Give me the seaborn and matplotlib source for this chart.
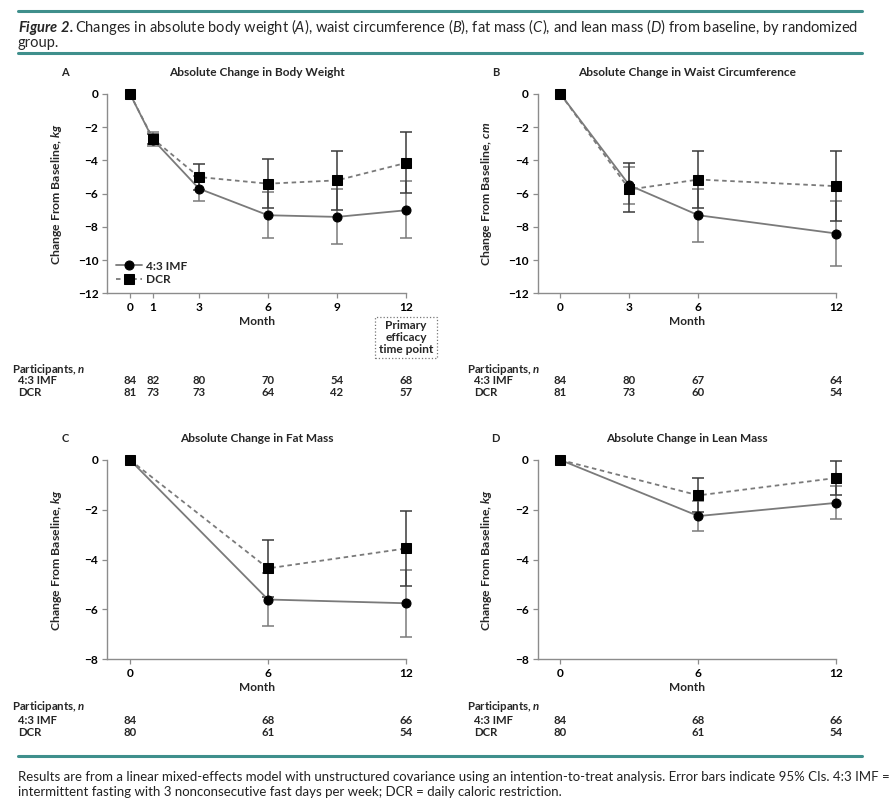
import matplotlib
matplotlib.use("Agg")
import numpy as np
import pandas as pd
import matplotlib.pyplot as plt
import matplotlib.transforms as mtransforms
from matplotlib.lines import Line2D
import seaborn as sns

# Panel A - body weight (kg)
months_a = [0, 1, 3, 6, 9, 12]
imf_a = [0, -2.75, -5.7, -7.3, -7.4, -7.0]
imf_a_lo = [0, -3.15, -6.45, -8.7, -9.05, -8.7]
imf_a_hi = [0, -2.3, -4.95, -5.9, -5.75, -5.25]
dcr_a = [0, -2.7, -5.0, -5.4, -5.2, -4.15]
dcr_a_lo = [0, -3.0, -5.8, -6.85, -7.0, -5.95]
dcr_a_hi = [0, -2.4, -4.2, -3.9, -3.45, -2.3]
n_imf_a = [84, 82, 80, 70, 54, 68]
n_dcr_a = [81, 73, 73, 64, 42, 57]

# Panel B - waist circumference (cm)
months_b = [0, 3, 6, 12]
imf_b = [0, -5.5, -7.3, -8.4]
imf_b_lo = [0, -6.6, -8.9, -10.35]
imf_b_hi = [0, -4.4, -5.7, -6.45]
dcr_b = [0, -5.75, -5.15, -5.55]
dcr_b_lo = [0, -7.1, -6.85, -7.65]
dcr_b_hi = [0, -4.15, -3.45, -3.45]
n_imf_b = [84, 80, 67, 64]
n_dcr_b = [81, 73, 60, 54]

# Panel C - fat mass (kg)
months_c = [0, 6, 12]
imf_c = [0, -5.6, -5.75]
imf_c_lo = [0, -6.65, -7.1]
imf_c_hi = [0, -4.55, -4.4]
dcr_c = [0, -4.35, -3.55]
dcr_c_lo = [0, -5.5, -5.05]
dcr_c_hi = [0, -3.2, -2.05]
n_imf_c = [84, 68, 66]
n_dcr_c = [80, 61, 54]

# Panel D - lean mass (kg)
months_d = [0, 6, 12]
imf_d = [0, -2.25, -1.72]
imf_d_lo = [0, -2.85, -2.35]
imf_d_hi = [0, -1.65, -1.05]
dcr_d = [0, -1.42, -0.72]
dcr_d_lo = [0, -2.08, -1.4]
dcr_d_hi = [0, -0.72, -0.03]
n_imf_d = [84, 68, 66]
n_dcr_d = [80, 61, 54]

groups = ["4:3 IMF", "DCR"]

sns.set_style("ticks")
plt.rcParams["font.family"] = ["Lato", "DejaVu Sans"]
plt.rcParams["mathtext.fontset"] = "custom"
plt.rcParams["mathtext.rm"] = "Lato"
plt.rcParams["mathtext.it"] = "Lato:italic:bold"
plt.rcParams["mathtext.sf"] = "Lato:italic"
plt.rcParams["mathtext.bf"] = "Lato:bold"
plt.rcParams["mathtext.bfit"] = "Lato:bold:italic"

W, H = 890, 802
fig = plt.figure(figsize=(W / 100, H / 100), dpi=100)
teal = "#3f8f8c"
spine_col = "#8c8c8c"
fs = 8.6
fs_tab = 8.2


def fy(py):
    return 1 - py / H


def fx(px):
    return px / W


def panel(rect, months, imf, imf_lo, imf_hi, dcr, dcr_lo, dcr_hi, ymin, title, letter, unit, legend=False):
    ax = fig.add_axes(rect)
    df = pd.DataFrame({
        "month": months + months,
        "change": imf + dcr,
        "group": [groups[0]] * len(months) + [groups[1]] * len(months),
    })
    # error bars (95% CI)
    for vals, lo, hi, col in [(imf, imf_lo, imf_hi, "#7a7a7a"), (dcr, dcr_lo, dcr_hi, "#3a3a3a")]:
        m = np.array(months[1:])
        v = np.array(vals[1:])
        err = [v - np.array(lo[1:]), np.array(hi[1:]) - v]
        ax.errorbar(m, v, yerr=err, fmt="none", ecolor=col, elinewidth=1.1,
                    capsize=4, capthick=1.1, zorder=2, clip_on=False)
    sns.lineplot(data=df, x="month", y="change", hue="group", style="group",
                 hue_order=groups, style_order=groups,
                 palette={groups[0]: "#7a7a7a", groups[1]: "#7a7a7a"},
                 markers={groups[0]: "o", groups[1]: "s"},
                 dashes={groups[0]: "", groups[1]: (2.5, 2)},
                 markerfacecolor="black", markeredgecolor="black", markersize=6.5,
                 linewidth=1.3, legend=False, ax=ax, zorder=3, clip_on=False)
    for ln in ax.lines:
        ln.set_clip_on(False)
    ax.set_xlim(-0.99, 12)
    ax.set_ylim(ymin, 0)
    ax.set_xticks(months)
    ax.set_yticks(range(ymin, 1, 2))
    ax.set_xlabel("Month", fontsize=fs, fontweight="bold", labelpad=2)
    ax.set_ylabel("Change From Baseline, $\\mathit{" + unit + "}$", fontsize=8.8, fontweight="bold")
    ax.yaxis.set_label_coords(-0.145, 0.5)
    sns.despine(ax=ax)
    for s in ["left", "bottom"]:
        ax.spines[s].set_color(spine_col)
        ax.spines[s].set_linewidth(1.0)
    ax.tick_params(axis="both", colors=spine_col, length=3.5, width=0.9, labelsize=fs,
                   labelcolor="black", pad=3)
    for lab in ax.get_xticklabels() + ax.get_yticklabels():
        lab.set_fontweight("bold")
    left = rect[0]
    cx = rect[0] + rect[2] / 2
    top_px = (1 - (rect[1] + rect[3])) * H
    fig.text(cx, fy(top_px - 21), title, ha="center", va="center", fontsize=fs, fontweight="bold")
    fig.text(left - fx(42), fy(top_px - 21), letter, ha="center", va="center", fontsize=8, fontweight="bold")
    if legend:
        handles = [ln for ln in ax.lines if ln.get_marker() in ("o", "s")][-2:]
        ax.legend(handles=handles, labels=groups, loc="lower left",
                  bbox_to_anchor=(0.0, 0.0), frameon=False,
                  handlelength=2.2, handletextpad=0.3, borderaxespad=0.3,
                  labelspacing=0.2, prop={"weight": "bold", "size": fs})
    return ax


def table(ax, months, n_imf, n_dcr, y_rows, x_head, x_row):
    trans = mtransforms.blended_transform_factory(ax.transData, fig.transFigure)
    fig.text(fx(x_head), fy(y_rows[0]), "Participants, $\\mathit{n}$", ha="left", va="center",
             fontsize=fs_tab, fontweight="bold")
    fig.text(fx(x_row), fy(y_rows[1]), groups[0], ha="left", va="center", fontsize=fs_tab, fontweight="bold")
    fig.text(fx(x_row), fy(y_rows[2]), groups[1], ha="left", va="center", fontsize=fs_tab, fontweight="bold")
    for m, a, b in zip(months, n_imf, n_dcr):
        ax.text(m, fy(y_rows[1]), str(a), transform=trans, ha="center", va="center",
                fontsize=fs_tab, fontweight="bold")
        ax.text(m, fy(y_rows[2]), str(b), transform=trans, ha="center", va="center",
                fontsize=fs_tab, fontweight="bold")


aw = (406 - 107.3) / W
ah = (293.3 - 94) / H
rect_a = [107.3 / W, fy(293.3), aw, ah]
rect_b = [537.7 / W, fy(293.3), aw, ah]
rect_c = [107.3 / W, fy(659.3), aw, ah]
rect_d = [537.7 / W, fy(659.3), aw, ah]

ax_a = panel(rect_a, months_a, imf_a, imf_a_lo, imf_a_hi, dcr_a, dcr_a_lo, dcr_a_hi, -12,
             "Absolute Change in Body Weight", "A", "kg", legend=True)
ax_b = panel(rect_b, months_b, imf_b, imf_b_lo, imf_b_hi, dcr_b, dcr_b_lo, dcr_b_hi, -12,
             "Absolute Change in Waist Circumference", "B", "cm")
ax_c = panel(rect_c, months_c, imf_c, imf_c_lo, imf_c_hi, dcr_c, dcr_c_lo, dcr_c_hi, -8,
             "Absolute Change in Fat Mass", "C", "kg")
ax_d = panel(rect_d, months_d, imf_d, imf_d_lo, imf_d_hi, dcr_d, dcr_d_lo, dcr_d_hi, -8,
             "Absolute Change in Lean Mass", "D", "kg")

table(ax_a, months_a, n_imf_a, n_dcr_a, [369, 381, 393], 12, 18)
table(ax_b, months_b, n_imf_b, n_dcr_b, [369, 381, 393], 467, 474)
table(ax_c, months_c, n_imf_c, n_dcr_c, [707, 720, 732], 12, 18)
table(ax_d, months_d, n_imf_d, n_dcr_d, [707, 720, 732], 467, 474)

# primary efficacy box under month 12 of panel A
trans_a = mtransforms.blended_transform_factory(ax_a.transData, fig.transFigure)
ax_a.text(12, fy(337.5), "Primary\nefficacy\ntime point", transform=trans_a, ha="center",
          va="center", fontsize=fs, fontweight="bold", linespacing=1.1,
          bbox=dict(boxstyle="square,pad=0.3", fc="white", ec="#777777", ls=":", lw=0.9))

# header / footer rules
for py in [11, 53, 756]:
    fig.add_artist(Line2D([fx(18), fx(862)], [fy(py), fy(py)], color=teal, lw=2.2,
                          transform=fig.transFigure))

fig.text(fx(18), fy(27), "$\\mathbfit{Figure\\ 2.}$Changes in absolute body weight ($\\mathsf{A}$), "
         "waist circumference ($\\mathsf{B}$), fat mass ($\\mathsf{C}$), and lean mass ($\\mathsf{D}$) "
         "from baseline, by randomized", ha="left", va="center", fontsize=10.5)
fig.text(fx(18), fy(43), "group.", ha="left", va="center", fontsize=10.5)

fig.text(fx(18), fy(777), "Results are from a linear mixed-effects model with unstructured covariance using an "
         "intention-to-treat analysis. Error bars indicate 95% CIs. 4:3 IMF =", ha="left", va="center",
         fontsize=9.5, color="#222222")
fig.text(fx(18), fy(792), "intermittent fasting with 3 nonconsecutive fast days per week; DCR = daily caloric restriction.",
         ha="left", va="center", fontsize=9.5, color="#222222")

fig.savefig("out.png", dpi=100)
